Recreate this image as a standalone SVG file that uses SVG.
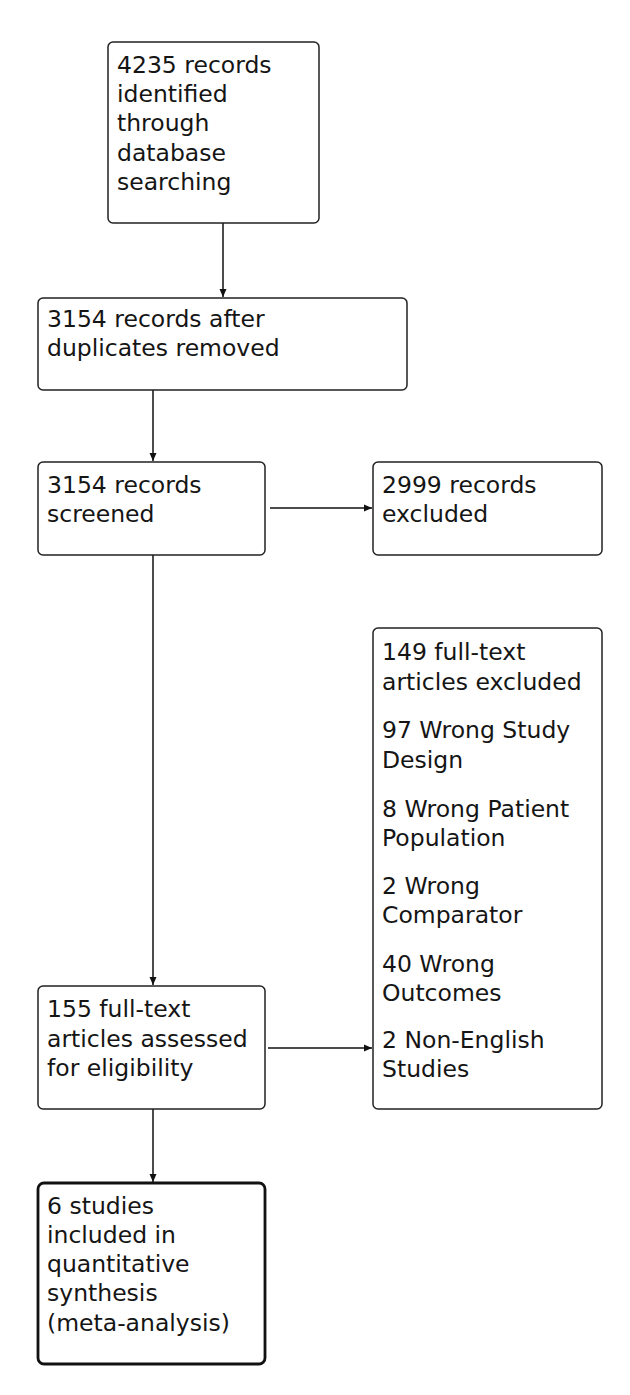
<svg xmlns="http://www.w3.org/2000/svg" width="630" height="1395" viewBox="0 0 630 1395">
<style>
.box{fill:#fff;stroke:#222;stroke-width:1.5}
.final{fill:#fff;stroke:#111;stroke-width:2.8}
.t{font-family:"DejaVu Sans","Liberation Sans",sans-serif;font-size:23.5px;fill:#151515}
.c{stroke:#111;stroke-width:1.5;fill:none;marker-end:url(#ah)}
</style>
<defs>
<marker id="ah" markerWidth="10" markerHeight="10" refX="8" refY="5" orient="auto" markerUnits="userSpaceOnUse">
<path d="M0,1.5 L8,5 L0,8.5 Z" fill="#111"/>
</marker>
</defs>
<rect width="630" height="1395" fill="#fff"/>
<g id="connectors">
<line class="c" x1="223" y1="223" x2="223" y2="297"/>
<line class="c" x1="153" y1="390" x2="153" y2="461"/>
<line class="c" x1="270" y1="508" x2="372" y2="508"/>
<line class="c" x1="153" y1="555" x2="153" y2="985"/>
<line class="c" x1="268" y1="1048" x2="372" y2="1048"/>
<line class="c" x1="153" y1="1109" x2="153" y2="1182"/>
</g>
<g id="n1">
<rect class="box" x="108" y="42" width="211" height="181" rx="5"/>
<text class="t"><tspan x="117" y="73">4235 records</tspan><tspan x="117" y="102">identified</tspan><tspan x="117" y="131">through</tspan><tspan x="117" y="161">database</tspan><tspan x="117" y="190">searching</tspan></text>
</g>
<g id="n2">
<rect class="box" x="38" y="298" width="369" height="92" rx="5"/>
<text class="t"><tspan x="47" y="327">3154 records after</tspan><tspan x="47" y="356">duplicates removed</tspan></text>
</g>
<g id="n3">
<rect class="box" x="38" y="462" width="227" height="93" rx="5"/>
<text class="t"><tspan x="47" y="493">3154 records</tspan><tspan x="47" y="522">screened</tspan></text>
</g>
<g id="n4">
<rect class="box" x="373" y="462" width="229" height="93" rx="5"/>
<text class="t"><tspan x="382" y="493">2999 records</tspan><tspan x="382" y="522">excluded</tspan></text>
</g>
<g id="n5">
<rect class="box" x="373" y="628" width="229" height="481" rx="5"/>
<text class="t"><tspan x="382" y="660">149 full-text</tspan><tspan x="382" y="690">articles excluded</tspan><tspan x="382" y="738">97 Wrong Study</tspan><tspan x="382" y="768">Design</tspan><tspan x="382" y="817">8 Wrong Patient</tspan><tspan x="382" y="846">Population</tspan><tspan x="382" y="894">2 Wrong</tspan><tspan x="382" y="923">Comparator</tspan><tspan x="382" y="972">40 Wrong</tspan><tspan x="382" y="1001">Outcomes</tspan><tspan x="382" y="1048">2 Non-English</tspan><tspan x="382" y="1077">Studies</tspan></text>
</g>
<g id="n6">
<rect class="box" x="38" y="986" width="227" height="123" rx="5"/>
<text class="t"><tspan x="47" y="1017">155 full-text</tspan><tspan x="47" y="1047">articles assessed</tspan><tspan x="47" y="1076">for eligibility</tspan></text>
</g>
<g id="n7">
<rect class="final" x="38" y="1183" width="227" height="181" rx="6"/>
<text class="t"><tspan x="47" y="1214">6 studies</tspan><tspan x="47" y="1243">included in</tspan><tspan x="47" y="1272">quantitative</tspan><tspan x="47" y="1301">synthesis</tspan><tspan x="47" y="1331">(meta-analysis)</tspan></text>
</g>
</svg>
